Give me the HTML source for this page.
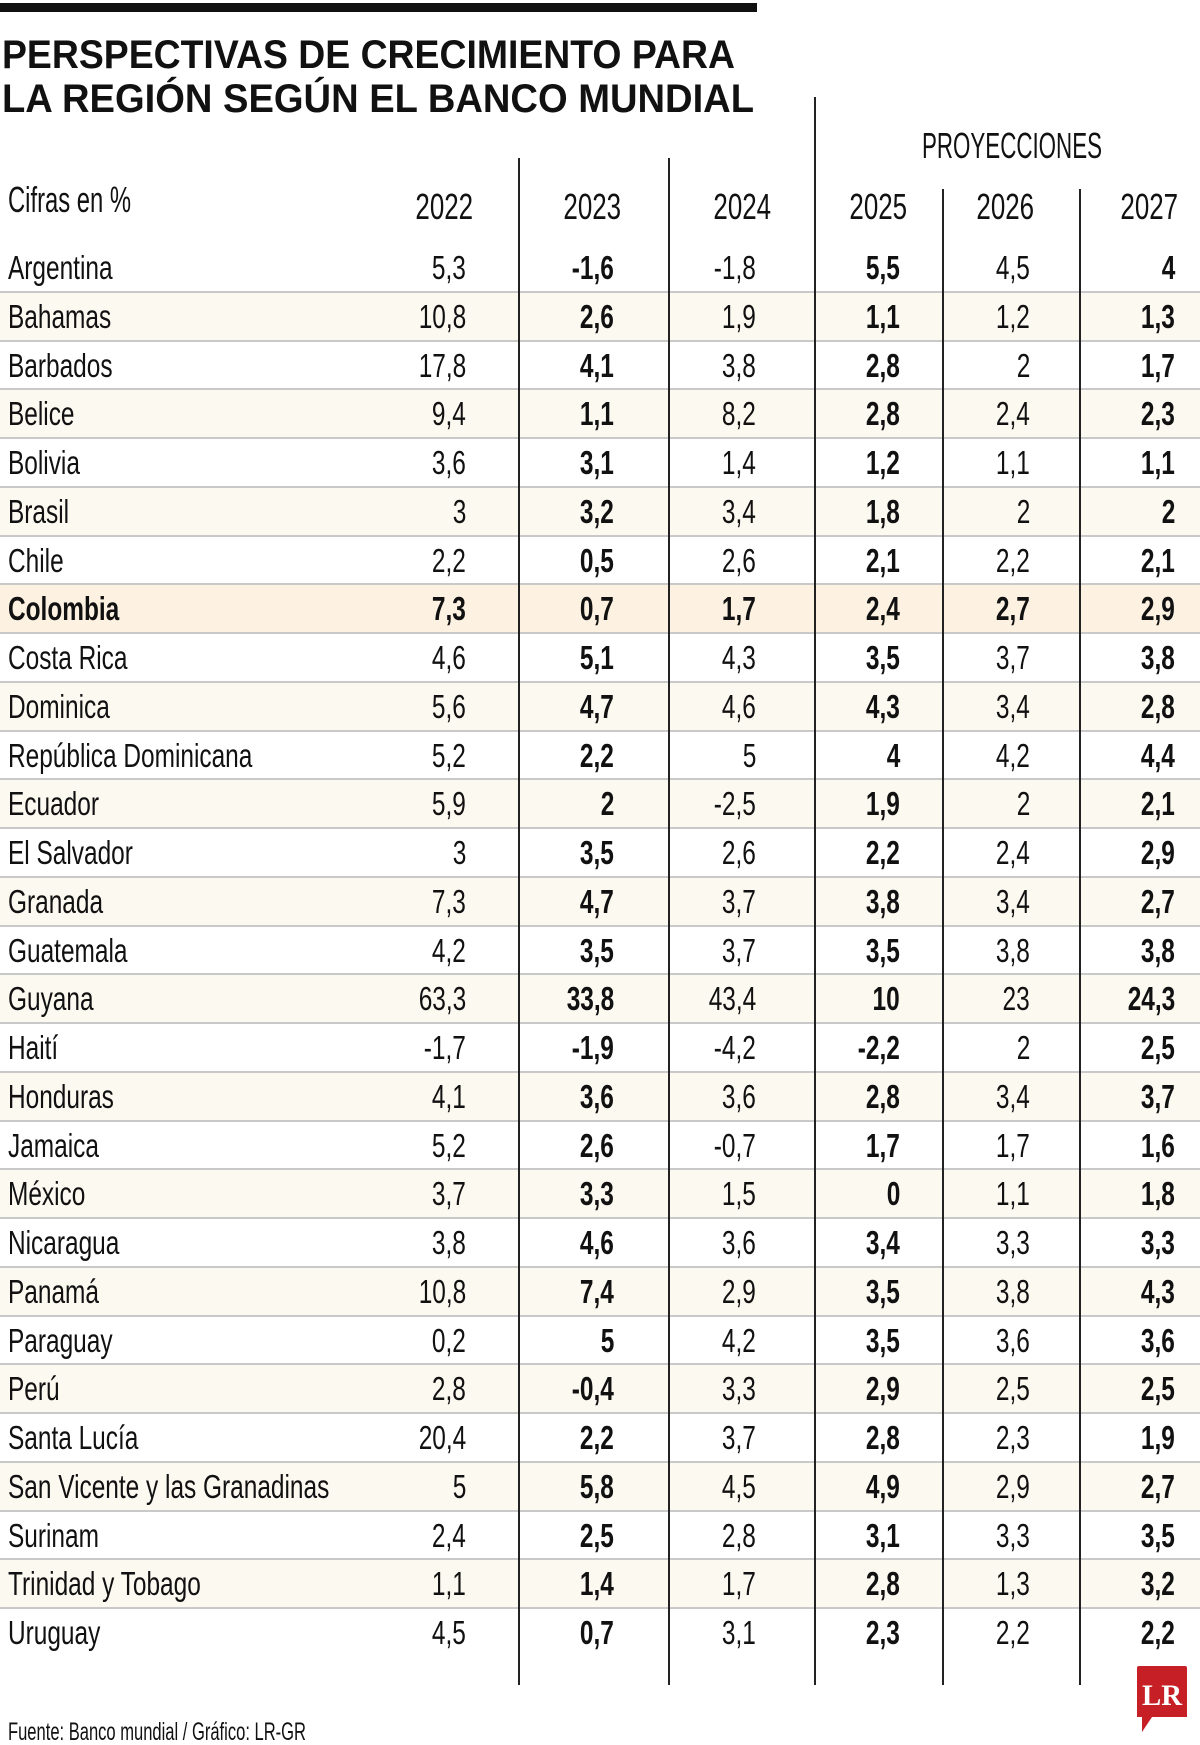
<!DOCTYPE html>
<html><head><meta charset="utf-8">
<style>
html,body{margin:0;padding:0;background:#fff}
#pg{position:relative;width:1200px;height:1745px;overflow:hidden;background:#fff;font-family:"Liberation Sans",sans-serif;color:#111}
.r{position:absolute;left:0;width:1200px;height:48.75px;border-bottom:2px solid #c9c9c9;box-sizing:border-box}
.r.o{background:#fcf9f1}
.r.col{background:#fdf2e2}
.r span{position:absolute;top:7px;font-size:33px;line-height:1;white-space:nowrap;transform:scaleX(.74);transform-origin:right center;font-weight:normal}
.r span.n{left:8px;transform-origin:left center}
.r .c1{right:734px}.r .c2{right:586px;font-weight:bold}.r .c3{right:444px}
.r .c4{right:300px;font-weight:bold}.r .c5{right:170px}.r .c6{right:25px;font-weight:bold}
.r.col span{font-weight:bold}
.v{position:absolute;width:1.5px;background:#222;bottom:60px}
.h{position:absolute;top:189px;font-size:36px;line-height:1;transform:scaleX(.72);transform-origin:right center;white-space:nowrap}
</style></head><body><div id="pg">
<div style="position:absolute;left:0;top:3px;width:757px;height:9px;background:#111"></div>
<svg style="position:absolute;left:0;top:0" width="1200" height="240">
<text x="2" y="68" font-family="Liberation Sans" font-weight="bold" font-size="40" textLength="733" lengthAdjust="spacingAndGlyphs" fill="#111">PERSPECTIVAS DE CRECIMIENTO PARA</text>
<text x="2" y="112" font-family="Liberation Sans" font-weight="bold" font-size="40" textLength="752" lengthAdjust="spacingAndGlyphs" fill="#111">LA REGIÓN SEGÚN EL BANCO MUNDIAL</text>
<text x="922" y="158" font-family="Liberation Sans" font-size="36" textLength="180" lengthAdjust="spacingAndGlyphs" fill="#111">PROYECCIONES</text>
<text x="8" y="212" font-family="Liberation Sans" font-size="36" textLength="123" lengthAdjust="spacingAndGlyphs" fill="#111">Cifras en %</text>
</svg>
<div class="h" style="right:727px">2022</div>
<div class="h" style="right:579px">2023</div>
<div class="h" style="right:429px">2024</div>
<div class="h" style="right:293px">2025</div>
<div class="h" style="right:166px">2026</div>
<div class="h" style="right:22px">2027</div>

<div class="r" style="top:244px"><span class="n">Argentina</span><span class="c1">5,3</span><span class="c2">-1,6</span><span class="c3">-1,8</span><span class="c4">5,5</span><span class="c5">4,5</span><span class="c6">4</span></div>
<div class="r o" style="top:292.75px"><span class="n">Bahamas</span><span class="c1">10,8</span><span class="c2">2,6</span><span class="c3">1,9</span><span class="c4">1,1</span><span class="c5">1,2</span><span class="c6">1,3</span></div>
<div class="r" style="top:341.5px"><span class="n">Barbados</span><span class="c1">17,8</span><span class="c2">4,1</span><span class="c3">3,8</span><span class="c4">2,8</span><span class="c5">2</span><span class="c6">1,7</span></div>
<div class="r o" style="top:390.25px"><span class="n">Belice</span><span class="c1">9,4</span><span class="c2">1,1</span><span class="c3">8,2</span><span class="c4">2,8</span><span class="c5">2,4</span><span class="c6">2,3</span></div>
<div class="r" style="top:439px"><span class="n">Bolivia</span><span class="c1">3,6</span><span class="c2">3,1</span><span class="c3">1,4</span><span class="c4">1,2</span><span class="c5">1,1</span><span class="c6">1,1</span></div>
<div class="r o" style="top:487.75px"><span class="n">Brasil</span><span class="c1">3</span><span class="c2">3,2</span><span class="c3">3,4</span><span class="c4">1,8</span><span class="c5">2</span><span class="c6">2</span></div>
<div class="r" style="top:536.5px"><span class="n">Chile</span><span class="c1">2,2</span><span class="c2">0,5</span><span class="c3">2,6</span><span class="c4">2,1</span><span class="c5">2,2</span><span class="c6">2,1</span></div>
<div class="r col" style="top:585.25px"><span class="n">Colombia</span><span class="c1">7,3</span><span class="c2">0,7</span><span class="c3">1,7</span><span class="c4">2,4</span><span class="c5">2,7</span><span class="c6">2,9</span></div>
<div class="r" style="top:634px"><span class="n">Costa Rica</span><span class="c1">4,6</span><span class="c2">5,1</span><span class="c3">4,3</span><span class="c4">3,5</span><span class="c5">3,7</span><span class="c6">3,8</span></div>
<div class="r o" style="top:682.75px"><span class="n">Dominica</span><span class="c1">5,6</span><span class="c2">4,7</span><span class="c3">4,6</span><span class="c4">4,3</span><span class="c5">3,4</span><span class="c6">2,8</span></div>
<div class="r" style="top:731.5px"><span class="n">República Dominicana</span><span class="c1">5,2</span><span class="c2">2,2</span><span class="c3">5</span><span class="c4">4</span><span class="c5">4,2</span><span class="c6">4,4</span></div>
<div class="r o" style="top:780.25px"><span class="n">Ecuador</span><span class="c1">5,9</span><span class="c2">2</span><span class="c3">-2,5</span><span class="c4">1,9</span><span class="c5">2</span><span class="c6">2,1</span></div>
<div class="r" style="top:829px"><span class="n">El Salvador</span><span class="c1">3</span><span class="c2">3,5</span><span class="c3">2,6</span><span class="c4">2,2</span><span class="c5">2,4</span><span class="c6">2,9</span></div>
<div class="r o" style="top:877.75px"><span class="n">Granada</span><span class="c1">7,3</span><span class="c2">4,7</span><span class="c3">3,7</span><span class="c4">3,8</span><span class="c5">3,4</span><span class="c6">2,7</span></div>
<div class="r" style="top:926.5px"><span class="n">Guatemala</span><span class="c1">4,2</span><span class="c2">3,5</span><span class="c3">3,7</span><span class="c4">3,5</span><span class="c5">3,8</span><span class="c6">3,8</span></div>
<div class="r o" style="top:975.25px"><span class="n">Guyana</span><span class="c1">63,3</span><span class="c2">33,8</span><span class="c3">43,4</span><span class="c4">10</span><span class="c5">23</span><span class="c6">24,3</span></div>
<div class="r" style="top:1024px"><span class="n">Haití</span><span class="c1">-1,7</span><span class="c2">-1,9</span><span class="c3">-4,2</span><span class="c4">-2,2</span><span class="c5">2</span><span class="c6">2,5</span></div>
<div class="r o" style="top:1072.75px"><span class="n">Honduras</span><span class="c1">4,1</span><span class="c2">3,6</span><span class="c3">3,6</span><span class="c4">2,8</span><span class="c5">3,4</span><span class="c6">3,7</span></div>
<div class="r" style="top:1121.5px"><span class="n">Jamaica</span><span class="c1">5,2</span><span class="c2">2,6</span><span class="c3">-0,7</span><span class="c4">1,7</span><span class="c5">1,7</span><span class="c6">1,6</span></div>
<div class="r o" style="top:1170.25px"><span class="n">México</span><span class="c1">3,7</span><span class="c2">3,3</span><span class="c3">1,5</span><span class="c4">0</span><span class="c5">1,1</span><span class="c6">1,8</span></div>
<div class="r" style="top:1219px"><span class="n">Nicaragua</span><span class="c1">3,8</span><span class="c2">4,6</span><span class="c3">3,6</span><span class="c4">3,4</span><span class="c5">3,3</span><span class="c6">3,3</span></div>
<div class="r o" style="top:1267.75px"><span class="n">Panamá</span><span class="c1">10,8</span><span class="c2">7,4</span><span class="c3">2,9</span><span class="c4">3,5</span><span class="c5">3,8</span><span class="c6">4,3</span></div>
<div class="r" style="top:1316.5px"><span class="n">Paraguay</span><span class="c1">0,2</span><span class="c2">5</span><span class="c3">4,2</span><span class="c4">3,5</span><span class="c5">3,6</span><span class="c6">3,6</span></div>
<div class="r o" style="top:1365.25px"><span class="n">Perú</span><span class="c1">2,8</span><span class="c2">-0,4</span><span class="c3">3,3</span><span class="c4">2,9</span><span class="c5">2,5</span><span class="c6">2,5</span></div>
<div class="r" style="top:1414px"><span class="n">Santa Lucía</span><span class="c1">20,4</span><span class="c2">2,2</span><span class="c3">3,7</span><span class="c4">2,8</span><span class="c5">2,3</span><span class="c6">1,9</span></div>
<div class="r o" style="top:1462.75px"><span class="n">San Vicente y las Granadinas</span><span class="c1">5</span><span class="c2">5,8</span><span class="c3">4,5</span><span class="c4">4,9</span><span class="c5">2,9</span><span class="c6">2,7</span></div>
<div class="r" style="top:1511.5px"><span class="n">Surinam</span><span class="c1">2,4</span><span class="c2">2,5</span><span class="c3">2,8</span><span class="c4">3,1</span><span class="c5">3,3</span><span class="c6">3,5</span></div>
<div class="r o" style="top:1560.25px"><span class="n">Trinidad y Tobago</span><span class="c1">1,1</span><span class="c2">1,4</span><span class="c3">1,7</span><span class="c4">2,8</span><span class="c5">1,3</span><span class="c6">3,2</span></div>
<div class="r" style="top:1609px;border-bottom:none"><span class="n">Uruguay</span><span class="c1">4,5</span><span class="c2">0,7</span><span class="c3">3,1</span><span class="c4">2,3</span><span class="c5">2,2</span><span class="c6">2,2</span></div>

<div class="v" style="left:518px;top:158px"></div>
<div class="v" style="left:668px;top:158px"></div>
<div class="v" style="left:814px;top:97px;width:2px"></div>
<div class="v" style="left:942px;top:189px"></div>
<div class="v" style="left:1079px;top:189px"></div>

<svg style="position:absolute;left:0;top:1650px" width="1200" height="95">
<text x="8" y="90" font-family="Liberation Sans" font-size="25" textLength="298" lengthAdjust="spacingAndGlyphs" fill="#111">Fuente: Banco mundial  / Gráfico: LR-GR</text>
<path d="M1137 18 Q1137 16 1139 16 L1185 16 Q1187 16 1187 18 L1187 67 L1152 67 L1142 82 L1142 67 L1137 67 Z" fill="#c62026"/>
<text x="1162" y="55" text-anchor="middle" font-family="Liberation Serif" font-weight="bold" font-size="30" fill="#fff" textLength="40" lengthAdjust="spacingAndGlyphs">LR</text>
</svg>
</div></body></html>
